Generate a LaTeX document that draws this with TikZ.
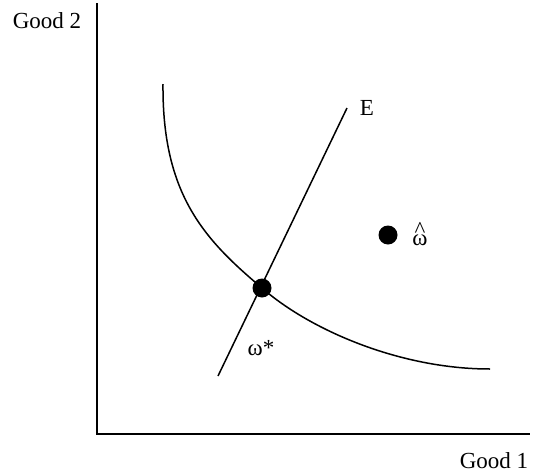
\documentclass[tikz,border=0pt]{standalone}
\usepackage{fontspec}
\setmainfont{Liberation Serif}
\usetikzlibrary{positioning}
\begin{document}
\begin{tikzpicture}[x=1pt,y=-1pt,line width=1.5pt,
	lbl/.style={font=\fontsize{23}{26}\selectfont,inner sep=0pt},
	bigdot/.style={circle,fill=black,inner sep=0pt,minimum size=19pt}]
	\useasboundingbox (0,0) rectangle (536,474);
	% axes
	\coordinate (ytop) at (97,3);
	\coordinate (O) at (97,434);
	\coordinate (xend) at (530,434);
	\draw[line width=2pt] (ytop)--(O)--(xend);
	\node[lbl] (good2) at (47,21) {Good 2};
	\node[lbl] (good1) at (494,461) {Good 1};
	% indifference curve and the line E
	\node[bigdot] (wstar) at (262,288) {};
	\coordinate (ctop) at (163,84);
	\coordinate (cend) at (490,369);
	\draw (ctop) .. controls (162,195) and (205,240) .. (wstar.center) .. controls (310,330) and (400,369) .. (cend);
	\coordinate (elow) at (218,376);
	\coordinate (ehigh) at (347,108);
	\draw (elow)--(ehigh);
	\node[lbl,right=12pt of ehigh] (E) {E};
	\node[lbl] (wstarlbl) at (261,348) {ω*};
	% endowment
	\node[bigdot] (what) at (388,235) {};
	\node[lbl,anchor=base] (whatlbl) at (420,245) {\ooalign{ω\cr\hidewidth\raisebox{7.5pt}{\textasciicircum}\hidewidth\cr}};
\end{tikzpicture}
\end{document}
